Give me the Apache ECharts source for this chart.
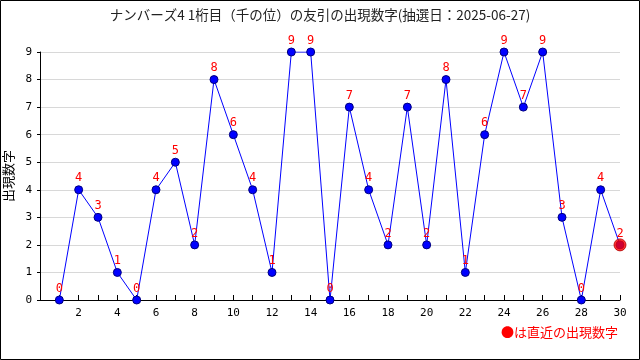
<!DOCTYPE html>
<html><head><meta charset="utf-8">
<script src="https://cdn.jsdelivr.net/npm/echarts@6/dist/echarts.min.js"></script>
<style>html,body{margin:0;padding:0;background:#fff}#c{width:640px;height:360px}</style>
</head><body><div id="c"></div>
<script>
const titleText = 'ナンバーズ4 1桁目（千の位）の友引の出現数字(抽選日：2025-06-27)';
const xValues = [1,2,3,4,5,6,7,8,9,10,11,12,13,14,15,16,17,18,19,20,21,22,23,24,25,26,27,28,29,30];
const digits  = [0,4,3,1,0,4,5,2,8,6,4,1,9,9,0,7,4,2,7,2,8,1,6,9,7,9,3,0,4,2];
const yName = '出現数字';
const legendText = '●は直近の出現数字';
const font = '"Noto Sans CJK JP", sans-serif';

const chart = echarts.init(document.getElementById('c'));
const pts = xValues.map((x,i)=>[x,digits[i]]);
const last = pts[pts.length-1];
chart.setOption({
  animation:false,
  backgroundColor:'#fff',
  title:{text:titleText,left:'center',top:3,textStyle:{fontFamily:font,fontSize:13.5,fontWeight:'normal',color:'#222'}},
  grid:{left:40,right:20,top:52,bottom:60,outerBoundsMode:'none',containLabel:false},
  xAxis:{type:'value',min:0,max:30,interval:1,
    axisLine:{lineStyle:{color:'#000'}},
    axisTick:{inside:true,length:5,lineStyle:{color:'#000'}},
    axisLabel:{color:'#000',fontFamily:'"DejaVu Sans Mono", monospace',fontSize:11,margin:8,
      formatter:v=> (v>0 && v%2===0)? String(v):''},
    splitLine:{show:false}},
  yAxis:{type:'value',min:0,max:9,interval:1,name:yName,nameLocation:'middle',nameGap:21,
    nameTextStyle:{fontFamily:font,fontSize:13,color:'#000'},
    axisLine:{show:true,lineStyle:{color:'#000'}},
    axisTick:{show:true,length:3,lineStyle:{color:'#000'}},
    axisLabel:{color:'#000',fontFamily:'"DejaVu Sans Mono", monospace',fontSize:11,margin:8},
    splitLine:{lineStyle:{color:'#d8d8d8'}}},
  series:[
    {type:'line',data:pts,symbol:'circle',symbolSize:8,
      lineStyle:{color:'#0000ff',width:1},
      itemStyle:{color:'#0000ff',borderColor:'#000080',borderWidth:1},
      label:{show:true,position:'top',distance:1,color:'#ff0000',fontFamily:'"DejaVu Sans Mono", monospace',fontSize:12,
        formatter:p=>String(p.value[1])}},
    {type:'scatter',data:[last],symbol:'circle',symbolSize:12,z:5,
      itemStyle:{color:'#ff0000',borderColor:'#b00000',borderWidth:1}}
  ],
  graphic:[
    {type:'rect',shape:{x:0.5,y:0.5,width:639,height:359},style:{fill:null,stroke:'#000',lineWidth:1},silent:true},
    {type:'text',right:22,top:326,style:{text:legendText,fill:'#ff0000',font:'13px '+font}}
  ]
});
</script></body></html>
